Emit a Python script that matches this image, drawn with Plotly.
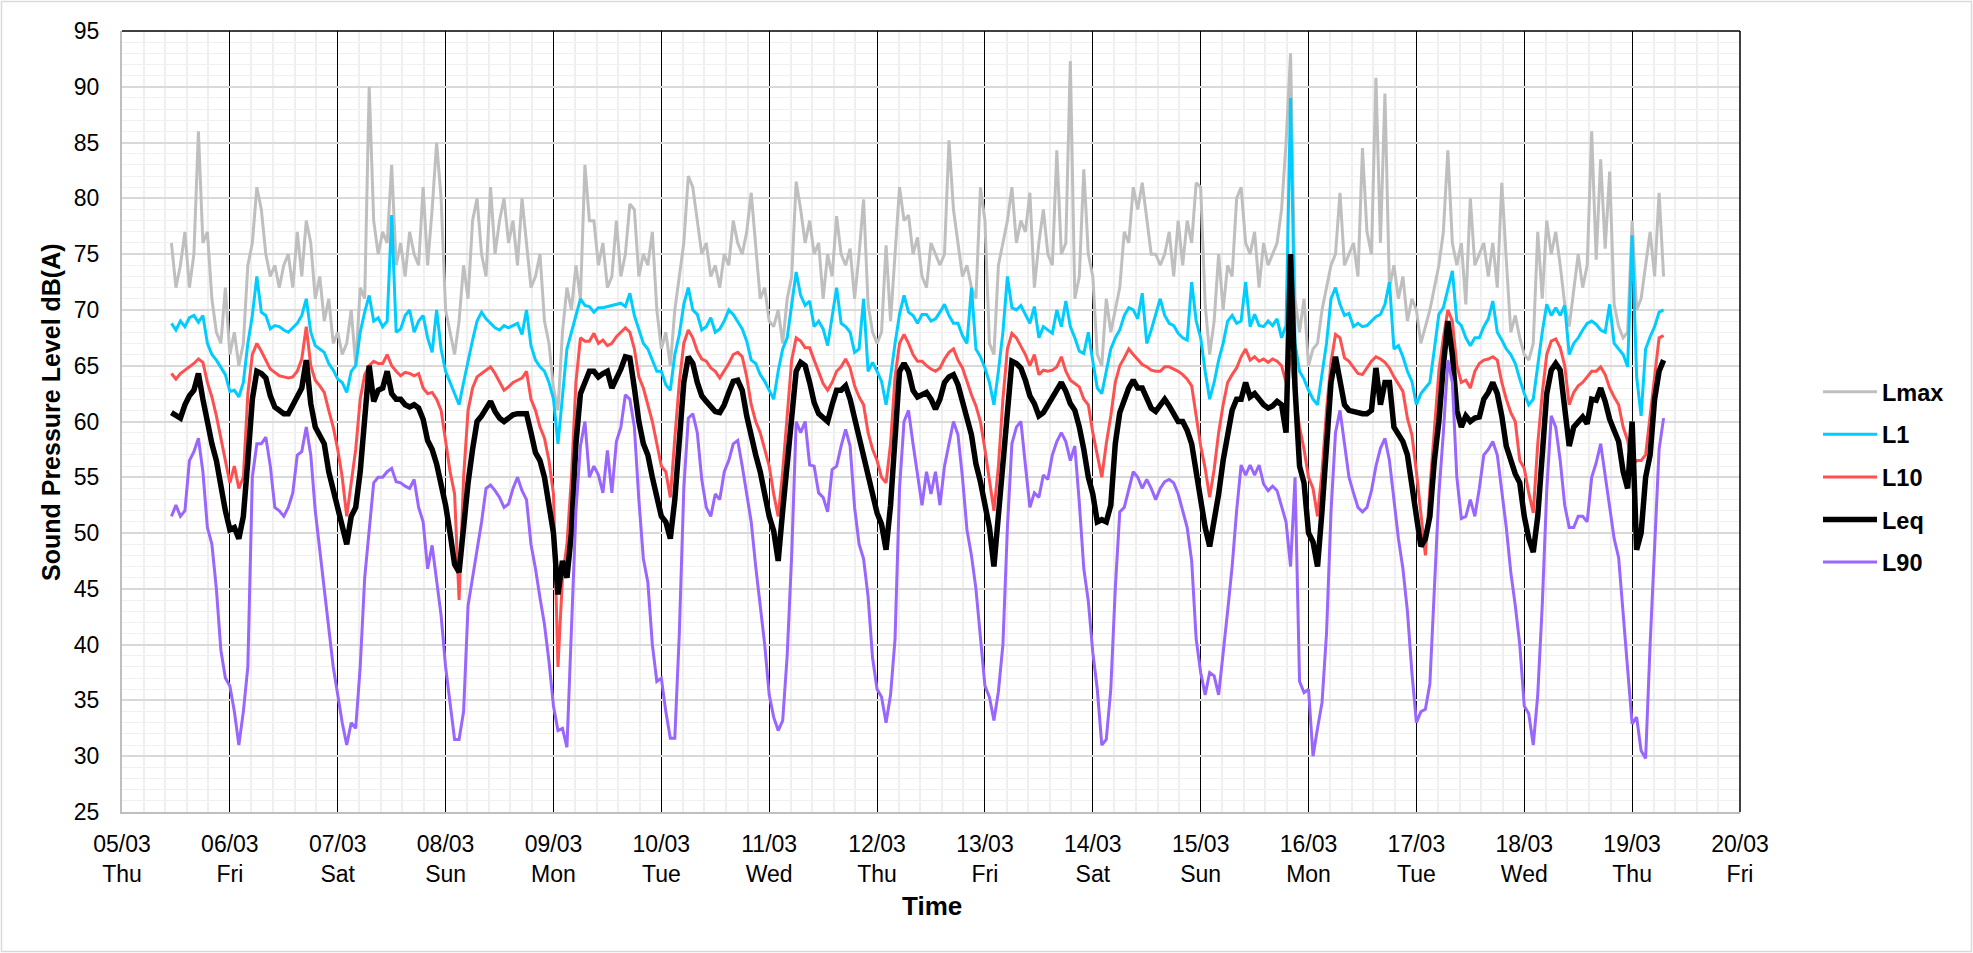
import pandas as pd
import plotly.graph_objects as go

# Hourly samples, 05/03/2020 11:00 -> 19/03/2020 07:00
times = pd.date_range("2020-03-05 11:00", "2020-03-19 07:00", freq="h")

lmax = [
    76, 72, 74, 77, 72, 75, 86, 76, 77, 71, 68, 67, 72,
    66, 68, 65, 67, 74, 76, 81, 79, 75, 73, 74, 72, 74, 75, 72, 77, 73, 78, 76, 71, 73, 69, 71, 67,
    68, 66, 67, 70, 65, 72, 71, 90, 78, 75, 77, 76, 83, 74, 76, 73, 77, 75, 74, 81, 74, 79, 85, 80,
    70, 68, 66, 69, 74, 71, 78, 80, 75, 73, 81, 75, 78, 80, 76, 78, 74, 80, 76, 72, 73, 75, 69, 67,
    63, 61, 68, 72, 70, 74, 71, 83, 78, 78, 74, 76, 72, 73, 78, 73, 75, 79.5, 79, 73, 75, 74, 77, 70,
    66.5, 68, 65, 70, 73, 76, 82, 81, 78, 75, 76, 73, 74, 72, 75, 74, 78, 76, 75, 77, 80.5, 76, 71, 72,
    69, 68.5, 70, 67, 71, 73, 81.5, 79, 76, 78, 75, 76, 71, 75, 73, 78.4, 75, 74, 75.5, 71, 75, 79.9, 70.5, 68,
    67, 68, 75.8, 69, 75, 81, 78, 78.5, 75, 76.5, 73, 72, 76, 75, 74, 75, 85.2, 79, 76, 73, 74, 72, 71, 81,
    78, 67, 66, 74, 76, 78, 81, 76, 78, 77, 80.5, 72, 76, 79, 75, 74, 84.3, 75, 76, 92.3, 71, 73, 82.6, 75,
    73, 66, 65, 71, 68, 70, 72, 77, 76, 81, 79, 81.4, 78, 75, 75, 74, 75, 77, 73, 78, 74, 78, 76, 81.4,
    81, 70.5, 66, 69, 75, 70, 74, 73, 80, 81, 76, 75, 77, 72, 76, 74, 75, 76, 79, 85, 93, 71, 68, 71,
    65, 66.5, 67, 70, 72, 74, 75, 80.5, 74, 75, 76, 73, 84.5, 77, 75, 90.8, 76, 89.4, 72, 74, 71, 73, 69, 71,
    70, 67, 68.5, 70, 72, 74, 77, 84.3, 76, 74, 76, 70.5, 80, 74, 75, 76, 73, 76, 72, 81.4, 74.5, 68, 69.5, 67.5,
    66, 65.5, 67, 77, 71, 78, 75, 77, 74, 70.5, 68.5, 72, 75, 72, 74, 86, 74.5, 83.5, 75.5, 82.4, 70.5, 68.5, 67.5, 68,
    78, 70, 71, 74, 77, 73, 80.5, 73,
]

l1 = [
    68.8, 68.2, 69, 68.5, 69.3, 69.5, 68.9, 69.5, 67, 66, 65.5, 64.8, 64.2,
    62.7, 62.8, 62.2, 63.5, 67, 69.5, 73, 69.8, 69.5, 68.3, 68.6, 68.5, 68.2, 68, 68.4, 68.8, 69.5, 71, 68, 66.8, 66.5, 66.2, 65.2, 64.6,
    63.8, 63.5, 62.6, 64.5, 65, 68, 69.8, 71.3, 69, 69.3, 68.5, 69, 78.5, 68, 68.3, 69.5, 70, 68, 69, 69.5, 67.5, 66.2, 70, 66.5,
    64.5, 63.5, 62.4, 61.5, 63.5, 65.5, 67.3, 69, 69.8, 69.2, 68.8, 68.4, 68.2, 68.6, 68.4, 68.6, 68.8, 67.8, 70, 66.8, 65.5, 64.9, 64.5, 63.5,
    62, 58, 62.5, 66.5, 68, 69.5, 71, 70.4, 70.3, 69.8, 70.2, 70.2, 70.3, 70.4, 70.5, 70.6, 70.3, 71.5, 69.5, 68.3, 67, 66.5, 65.5, 64.5,
    64.5, 63.3, 62.8, 66, 67.8, 70.5, 72, 70, 69.6, 68.2, 68.5, 69.3, 68, 68.3, 69, 70, 69.6, 69, 68.3, 67.2, 65.5, 65.2, 64.2, 63.6,
    62.8, 62, 64.5, 66.5, 67.5, 70.5, 73.4, 71.3, 70.4, 70.8, 68.5, 69, 68.3, 66.8, 69.2, 72, 68.8, 68.5, 68, 66.2, 66.5, 71, 64.5, 65.3,
    64.5, 63.6, 61.5, 64, 67, 69.6, 71.3, 69.8, 69.5, 68.8, 69.6, 69.6, 69, 69.2, 69.8, 70.5, 69.5, 68.8, 68.8, 67.7, 67, 72, 66.5, 65.8,
    64.8, 63.5, 61.5, 64.5, 68, 73, 70.2, 70, 70.4, 69.6, 68.8, 70.3, 67.5, 68.5, 68.2, 67.9, 70, 68.5, 70.8, 68.5, 67.5, 66.3, 66.1, 68,
    65.4, 63, 62.5, 64.5, 66.5, 67.5, 68.2, 69.5, 70.2, 70, 69.2, 71.5, 67, 68.2, 69.5, 71, 69.5, 68.8, 68.6, 67.9, 67.5, 67.3, 72.5, 69,
    67.5, 64.5, 62, 63.5, 65.5, 67, 69, 69.5, 68.8, 69, 72.5, 68.5, 69.6, 68.6, 68.5, 69, 68.6, 69.2, 67.5, 68.6, 89, 67, 64.5, 63.8,
    62.8, 62, 61.5, 64.5, 67, 71, 72, 70.5, 69.5, 69.7, 68.5, 68.8, 68.5, 68.6, 69, 69.4, 69.6, 70.5, 72.5, 66.5, 66.8, 65.8, 64.5, 63.6,
    61.5, 62.5, 63, 63.5, 66.5, 69.6, 70.2, 72, 73.5, 69, 68.6, 67.5, 66.8, 67.5, 67.5, 68.5, 69.2, 70.8, 68, 67.3, 66.5, 66, 65.2, 63.8,
    62.5, 61.5, 62, 65, 68, 70.5, 69.5, 70.2, 69.5, 70.4, 66, 67, 67.5, 68.2, 68.8, 69, 68.7, 68.2, 68, 70.5, 67, 66.5, 66, 64.9,
    76.7, 64, 60.5, 66.5, 67.6, 68.5, 69.8, 70,
]

l10 = [
    64.3, 63.8, 64.3, 64.6, 64.9, 65.2, 65.6, 65.3, 63.5, 62.2, 60.5, 58.5, 56.5,
    54.5, 56, 54, 55, 62.5, 66, 67, 66.3, 65.5, 64.7, 64.4, 64.1, 64, 63.9, 64, 64.5, 65.6, 68.5, 65, 63.7, 63.2, 62.6, 61, 59.5,
    57.5, 55, 51.5, 54.5, 57.5, 62, 64.2, 65, 65.4, 65.2, 65.2, 66, 65, 64.5, 64.1, 64.4, 64.3, 64.1, 64.3, 63, 62.5, 62.6, 62, 61,
    58, 55.5, 53.5, 44, 55, 61, 63, 64, 64.3, 64.6, 64.9, 64.3, 63.5, 62.8, 63.1, 63.5, 63.7, 63.9, 64.5, 62, 61, 59.5, 58.5, 56.5,
    53.5, 38, 46, 49, 55, 63.5, 67.5, 67.2, 67.2, 67.9, 67, 67.3, 66.8, 67, 67.6, 68, 68.4, 68, 66.5, 64, 63, 61.5, 60, 58,
    56, 55.5, 53.2, 58.5, 63.5, 67, 68.2, 67.5, 66.3, 65.6, 65.4, 64.8, 64.5, 63.9, 64.5, 65.2, 66, 66.2, 65.8, 64, 61.5, 60, 59, 57.5,
    56, 53.5, 51.5, 55.5, 60.5, 65.5, 67.5, 67.2, 66.6, 66.6, 65.5, 64.5, 63.4, 62.8, 63.5, 64.5, 64.9, 65.6, 64.8, 63.2, 62.2, 61.5, 59, 57.5,
    56.5, 55, 54.5, 58, 64, 67, 67.8, 67, 66, 65.4, 65.4, 65, 64.7, 64.5, 64.8, 65.6, 66.2, 66.5, 65.5, 64.8, 63.5, 62.4, 61.4, 60,
    57.5, 54.5, 52, 56, 62, 66.5, 67.9, 67.5, 66.8, 66, 65, 66, 64.2, 64.6, 64.5, 64.6, 64.9, 65.8, 64.5, 63.7, 63.4, 63.1, 62, 61.5,
    59, 57, 55, 58, 60.5, 63.5, 65, 65.7, 66.5, 66, 65.5, 65.1, 64.9, 64.6, 64.5, 64.5, 64.9, 64.9, 64.7, 64.5, 64.2, 63.8, 63.2, 60.5,
    57.8, 55.8, 53.2, 55.7, 59, 61.5, 63.5, 64.2, 64.8, 65.8, 66.5, 65.5, 65.8, 65.4, 65.6, 65.3, 65.6, 65.4, 65, 63.5, 66, 62.4, 59.5, 57.5,
    55, 54, 51.5, 55.5, 61, 65.3, 67.8, 67.5, 65.7, 65.4, 64.8, 64.3, 64.2, 64.8, 65.4, 65.8, 65.6, 65.3, 64.8, 64, 63.4, 62.7, 60.3, 58.8,
    55.5, 52, 48, 54, 59.5, 64.5, 67.5, 70, 69, 65, 63.5, 63.7, 63, 64.5, 65.2, 65.5, 65.6, 65.8, 65.5, 63.5, 62, 60.8, 60, 56.5,
    55.8, 53.6, 51.8, 58, 62.5, 66, 67.2, 67.4, 66.6, 65, 61.5, 62.6, 63.2, 63.5, 64, 64.5, 64.5, 64.9, 64.2, 63, 62.2, 61.5, 59.5, 58.3,
    56, 56.5, 56.5, 57, 60.5, 64, 67.5, 67.7,
]

leq = [
    60.8, 60.6, 60.3, 61.5, 62.3, 62.8, 64.3, 62, 59.8, 58, 56.5, 54, 52,
    50.3, 50.5, 49.5, 51.5, 56.5, 62, 64.5, 64.3, 63.9, 62.3, 61.3, 61, 60.7, 60.7, 61.5, 62.3, 63, 65.5, 61.6, 59.5, 58.8, 58, 55.5, 53.8,
    52.3, 50.8, 49, 51.5, 52.3, 55.5, 60.5, 65, 61.8, 62.8, 63, 64.5, 62.5, 62, 62, 61.5, 61.3, 61.5, 61.2, 60.2, 58.3, 57.5, 56.2, 54.5,
    52.5, 50, 47.2, 46.5, 51, 54.5, 57.5, 60, 60.5, 61.1, 61.8, 60.9, 60.3, 60, 60.3, 60.6, 60.7, 60.7, 60.7, 59, 57.2, 56.5, 55, 52.5,
    50, 44.5, 47.5, 46, 50, 58, 62.5, 63.5, 64.5, 64.5, 64, 64.3, 64.5, 63, 63.8, 64.7, 65.8, 65.7, 63, 60, 58, 57, 55, 53,
    51.5, 51, 49.5, 53, 58.5, 63.5, 65.8, 65.2, 63.5, 62.3, 61.8, 61.4, 60.9, 60.8, 61.5, 62.6, 63.6, 63.7, 62.8, 60.5, 58.5, 57, 55.5, 53.5,
    51.5, 50.2, 47.5, 52, 56.5, 61, 64.5, 65.3, 65, 63.5, 61.7, 60.7, 60.3, 60, 61.5, 62.8, 62.8, 63.2, 62, 60.3, 58.8, 57, 55.5, 53.5,
    51.8, 50.8, 48.5, 52.5, 59, 64.5, 65.2, 64.5, 62.8, 62.2, 62.4, 62.6, 62, 61.1, 62, 63.5, 64, 64.2, 63.3, 62, 60.3, 58.8, 56.2, 54.6,
    52.2, 50.5, 47, 51.5, 57, 61.5, 65.4, 65.2, 64.8, 63.7, 62.3, 61.6, 60.5, 60.8, 61.5, 62.3, 63, 63.5, 62.7, 61.6, 61, 59.5, 57.5, 55,
    53.5, 51, 51.2, 51, 52.5, 58, 60.8, 62, 63, 63.7, 63, 63, 62, 61.2, 60.9, 61.5, 62, 61.4, 60.8, 60, 60, 59.2, 58, 55.5,
    53, 50.5, 48.8, 51, 53.5, 56.5, 59, 61, 62, 62, 63.5, 62.2, 62.5, 62, 61.5, 61.2, 61.4, 61.8, 61.5, 59, 75, 63, 56, 54.5,
    50, 49.2, 47, 52, 57.5, 63.5, 65.8, 63.7, 61.5, 61, 60.9, 60.7, 60.7, 60.7, 61, 64.8, 61.5, 63.5, 63.5, 59.5, 58.8, 58.2, 57, 54.5,
    51.5, 48.8, 49.5, 51.5, 56.5, 60, 65, 69, 66, 61, 59.5, 60.5, 60, 60.3, 60.4, 62, 62.6, 63.5, 62.5, 60.5, 57.8, 56.5, 55.3, 54.5,
    51.5, 49.5, 48.3, 51.5, 57, 62.5, 64.6, 65.2, 64.6, 61, 57.8, 59.5, 59.9, 60.4, 59.8, 62, 61.9, 63, 61.8, 60.2, 59.2, 58.2, 55.5, 54,
    60, 48.5, 50, 55, 57, 62, 64.5, 65.5,
]

l90 = [
    51.5, 52.5, 51.5, 52, 56.5, 57.3, 58.5, 55.5, 50.5, 49, 45, 39.5, 37,
    36.3, 34, 31, 34, 38, 55, 58, 58, 58.6, 56, 52.3, 52, 51.5, 52.3, 53.6, 57, 57.3, 59.5, 57, 52, 48.5, 45, 42, 38,
    35.5, 33, 31, 33, 32.5, 38, 46, 50, 54.5, 55, 55, 55.5, 55.8, 54.6, 54.5, 54.2, 54, 54.8, 52.3, 51, 46.8, 48.9, 45.6, 42.6,
    38, 35, 31.5, 31.5, 34, 43.5, 46, 48.3, 51, 54, 54.3, 53.8, 53.2, 52.3, 52.6, 54, 55, 53.8, 53, 49, 46.8, 44.2, 41.8, 38.5,
    34.5, 32.3, 32.5, 30.8, 41, 52, 57.8, 60, 55, 56, 55.2, 53.6, 57.4, 53.6, 58.2, 59.5, 62.4, 62, 59.5, 53, 47.7, 45.6, 40, 36.7,
    37, 34, 31.6, 31.6, 41, 54, 60.3, 60.7, 59, 54.8, 52.3, 51.5, 53.5, 53, 55.5, 56.5, 58, 58.3, 56, 53.5, 51, 47, 43.5, 40,
    35.5, 33.5, 32.3, 33.2, 39, 48, 60, 59, 60, 56.1, 56, 53.6, 53.2, 51.9, 55.7, 56, 57.8, 59.3, 57.8, 52.3, 49, 47.7, 44.3, 38.8,
    36, 35.3, 33, 35.5, 40.5, 54, 60, 61, 58, 55, 52.5, 55.5, 53.5, 55.5, 52.5, 56, 58, 60, 58.8, 55, 50.3, 48, 45, 40.5,
    36.3, 35.3, 33.2, 35.8, 40, 50.5, 58, 59.5, 60, 56.1, 52.3, 53.6, 53.2, 55.2, 54.8, 57, 58.2, 59, 58.2, 56.5, 57.8, 52.7, 46.8, 43.9,
    39.3, 36, 31, 31.5, 36, 45, 51.9, 52.3, 54, 55.5, 55, 54, 54.8, 54, 53, 54, 54.6, 54.8, 54.5, 53.5, 52, 50.5, 47.5, 40.5,
    37.5, 35.5, 37.5, 37.2, 35.5, 39, 43, 47, 52, 56.1, 55.2, 56.1, 55.2, 56.1, 54.4, 53.8, 54.2, 53.8, 52.3, 51, 47, 55, 36.7, 35.7,
    36, 30, 32.5, 34.8, 41, 51.9, 59, 61, 58, 55, 53.6, 52.3, 51.9, 52.3, 53.8, 56, 57.6, 58.5, 56.5, 53, 49.5, 46.8, 43, 37.5,
    33, 34, 34.2, 36.5, 45, 53.5, 59, 65.5, 63.5, 55, 51.3, 51.5, 53, 51.5, 54, 57, 57.5, 58.2, 57, 54, 50.5, 46.5, 43.5, 40,
    34.5, 33.8, 31, 35.5, 43.5, 53.8, 60.5, 59.5, 56.5, 52.5, 50.5, 50.5, 51.5, 51.5, 51, 55, 56.3, 58, 55, 52, 49.5, 47.8, 42.5, 37.8,
    32.9, 33.5, 30.5, 29.8, 40, 48.5, 57.5, 60.3,
]

series_names = ["Lmax", "L1", "L10", "Leq", "L90"]
series_values = [lmax, l1, l10, leq, l90]
series_colors = ["#BFBFBF", "#00CCFF", "#FF5050", "#000000", "#9966FF"]
series_widths = [3, 3, 3, 5.5, 3]

FONT = "Liberation Sans, Arial, sans-serif"
W, H = 1973, 953
ML, MR, MT, MB = 122, 233, 31, 141
PW, PH = W - ML - MR, H - MT - MB

fig = go.Figure()
for name, vals, col, w in zip(series_names, series_values, series_colors, series_widths):
    fig.add_trace(go.Scatter(
        x=times, y=vals, name=name, mode="lines",
        line=dict(color=col, width=w), legendgroup=name,
    ))

def px_x(p):
    return (p - ML) / PW

def px_y(p):
    return (H - MB - p) / PH

fig.update_layout(
    width=W, height=H,
    margin=dict(l=ML, r=MR, t=MT, b=MB, autoexpand=False),
    paper_bgcolor="white", plot_bgcolor="white",
    font=dict(family=FONT, color="black"),
    showlegend=True,
    legend=dict(
        x=px_x(1818), xanchor="left", y=px_y(477), yanchor="middle",
        font=dict(family=FONT, size=23.5, color="black", weight="bold"),
        bgcolor="rgba(0,0,0,0)", traceorder="grouped", tracegroupgap=9,
        itemwidth=54,
    ),
    xaxis=dict(
        type="date", range=["2020-03-05", "2020-03-20"],
        tickmode="linear", tick0="2020-03-05", dtick=86400000,
        tickformat="%d/%m<br>%a",
        showgrid=True, gridcolor="black", gridwidth=1.3,
        minor=dict(tickmode="linear", tick0="2020-03-05", dtick=17280000,
                   showgrid=True, gridcolor="#EFEFEF", gridwidth=1.6),
        showline=True, linecolor="#BFBFBF", linewidth=2,
        ticks="", tickfont=dict(family=FONT, size=23, color="black"),
        ticklabelstandoff=10, zeroline=False, automargin=False,
    ),
    yaxis=dict(
        range=[25, 95], tickmode="linear", tick0=25, dtick=5,
        showgrid=True, gridcolor="#D9D9D9", gridwidth=1.6,
        minor=dict(tickmode="linear", tick0=25, dtick=1,
                   showgrid=True, gridcolor="#F0F0F0", gridwidth=1.3),
        showline=True, linecolor="#BFBFBF", linewidth=2,
        ticks="", tickfont=dict(family=FONT, size=23, color="black"),
        ticklabelstandoff=16, zeroline=False, automargin=False,
    ),
    shapes=[
        dict(type="line", xref="paper", yref="paper", x0=0, x1=1, y0=1, y1=1,
             line=dict(color="black", width=1.5)),
        dict(type="line", xref="paper", yref="paper", x0=1, x1=1, y0=0, y1=1,
             line=dict(color="black", width=1.5)),
        dict(type="rect", xref="paper", yref="paper",
             x0=px_x(1.5), x1=px_x(W - 1.5), y0=px_y(H - 1.5), y1=px_y(1.5),
             line=dict(color="#D9D9D9", width=1.5), layer="below"),
    ],
    annotations=[
        dict(text="Sound Pressure Level dB(A)", xref="paper", yref="paper",
             x=px_x(51), y=px_y(412), textangle=-90, showarrow=False,
             xanchor="center", yanchor="middle",
             font=dict(family=FONT, size=25, color="black", weight="bold")),
        dict(text="Time", xref="paper", yref="paper",
             x=px_x(932), y=px_y(906), showarrow=False,
             xanchor="center", yanchor="middle",
             font=dict(family=FONT, size=26, color="black", weight="bold")),
    ],
)

fig.write_html("out.html")
